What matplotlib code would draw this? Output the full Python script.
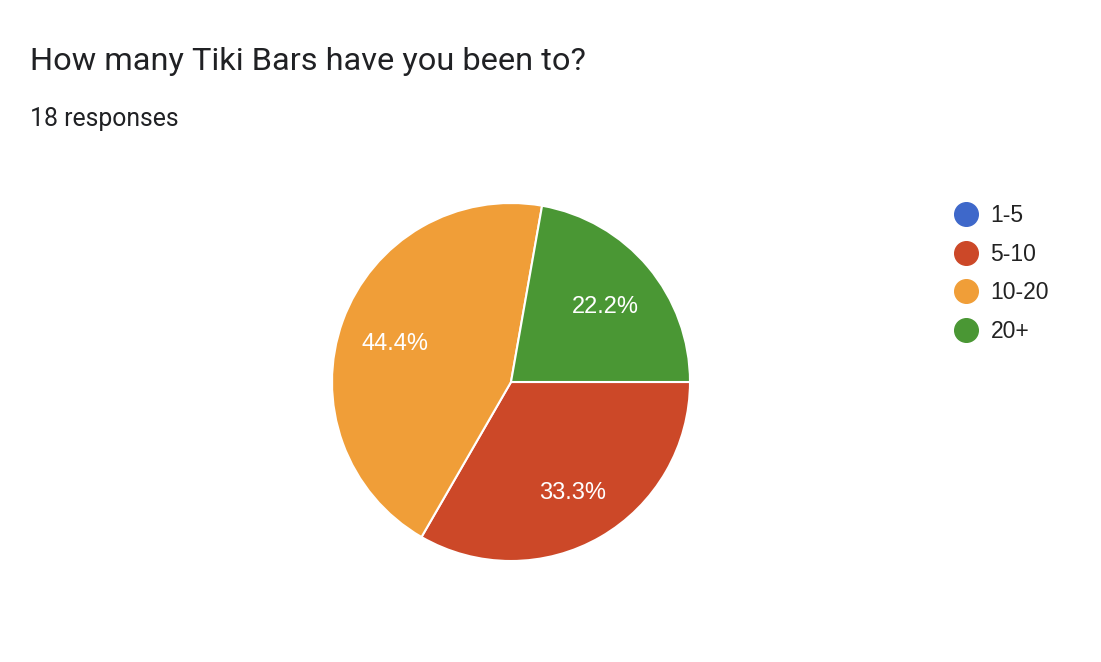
import matplotlib
matplotlib.use("Agg")
import matplotlib.pyplot as plt
from matplotlib.lines import Line2D

title = "How many Tiki Bars have you been to?"
subtitle = "18 responses"
labels = ["1-5", "5-10", "10-20", "20+"]
counts = [0, 6, 8, 4]
colors = ["#3e68ca", "#cc4828", "#f09e38", "#4a9734"]

W, H = 1101, 662
fig = plt.figure(figsize=(W / 100, H / 100), dpi=100)
fig.patch.set_facecolor("white")

# pie box: centre (511, 382), radius 179 px
cx, cy, r = 511, 382, 179
ax = fig.add_axes([(cx - r) / W, (H - cy - r) / H, 2 * r / W, 2 * r / H])


def pct(p):
    return "" if p < 0.05 else "{:.1f}%".format(p)


wedges, texts, autotexts = ax.pie(
    counts, colors=colors, startangle=0, counterclock=False,
    autopct=pct, pctdistance=0.69,
    wedgeprops=dict(edgecolor="white", linewidth=1.5),
    textprops=dict(color="white", fontsize=17, family="Liberation Sans"))
for t in autotexts:
    x, y = t.get_position()
    t.set_position((x, y - 0.025))
ax.set_xlim(-1, 1)
ax.set_ylim(-1, 1)
ax.set_aspect("equal")
ax.axis("off")

fig.text(30 / W, 1 - 62 / H, title, fontsize=23.4, family="Roboto",
         color="#202124", va="center", ha="left")
fig.text(30 / W, 1 - 119 / H, subtitle, fontsize=17.8, family="Roboto",
         color="#202124", va="center", ha="left")

handles = [Line2D([], [], marker="o", linestyle="none", markersize=17,
                  markerfacecolor=c, markeredgecolor=c) for c in colors]
leg = fig.legend(handles, labels, loc="upper left",
                 bbox_to_anchor=(955 / W, 1 - 204 / H), frameon=False,
                 prop=dict(family="Liberation Sans", size=16.5),
                 labelspacing=0.68, handlelength=1.0, handletextpad=0.55,
                 borderaxespad=0, borderpad=0)
for t in leg.get_texts():
    t.set_color("#222222")

fig.savefig("out.png", dpi=100)
